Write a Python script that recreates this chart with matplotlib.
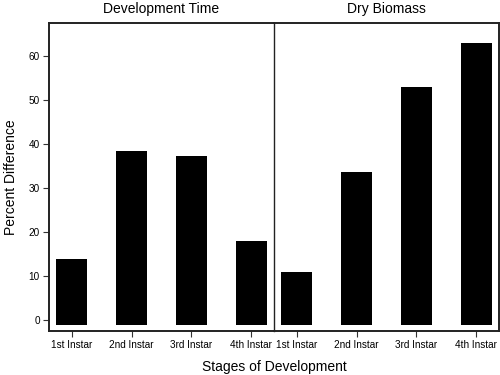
import numpy as np
import matplotlib
matplotlib.use("Agg")
import matplotlib.pyplot as plt

plt.rcParams['font.family'] = ['Liberation Sans', 'DejaVu Sans']

stages = ["1st Instar", "2nd Instar", "3rd Instar", "4th Instar"]
panels = ["Development Time", "Dry Biomass"]
dev_time = [14.0, 38.5, 37.2, 18.0]
dry_biomass = [11.0, 33.6, 53.0, 63.0]
yticks = [0, 10, 20, 30, 40, 50, 60]

base = -1.1  # bars start a little below zero, like the lattice original

fig = plt.figure(figsize=(5, 3.75), dpi=100)
x0, x1 = 0.098, 0.998
y0, y1 = 0.118, 0.939
w = (x1 - x0) / 2
ax1 = fig.add_axes([x0, y0, w, y1 - y0])
ax2 = fig.add_axes([x0 + w, y0, w, y1 - y0], sharey=ax1)

x = np.arange(1, len(stages) + 1)
for ax, vals, title in zip([ax1, ax2], [dev_time, dry_biomass], panels):
    vals = np.array(vals)
    ax.bar(x, vals - base, bottom=base, width=0.52, color='black')
    ax.set_xlim(0.62, 4.38)
    ax.set_ylim(-2.4, 67.5)
    ax.set_xticks(x)
    ax.set_xticklabels(stages, fontsize=7.2)
    ax.tick_params(axis='x', length=4, width=0.8, pad=3, color='#333333')
    ax.set_title(title, fontsize=10, pad=7)
    for s in ax.spines.values():
        s.set_linewidth(1.4)
        s.set_color('#222222')

ax1.spines['right'].set_visible(False)
ax2.spines['left'].set_linewidth(1.0)
ax1.set_yticks(yticks)
ax1.tick_params(axis='y', length=4.5, width=0.8, labelsize=7.2, pad=2, color='#333333')
ax2.tick_params(axis='y', left=False, labelleft=False)
ax1.set_ylabel("Percent Difference", fontsize=10, labelpad=8)
fig.text((x0 + x1) / 2, 0.004, "Stages of Development", ha='center', va='bottom', fontsize=10)

fig.savefig("out.png", dpi=100)
